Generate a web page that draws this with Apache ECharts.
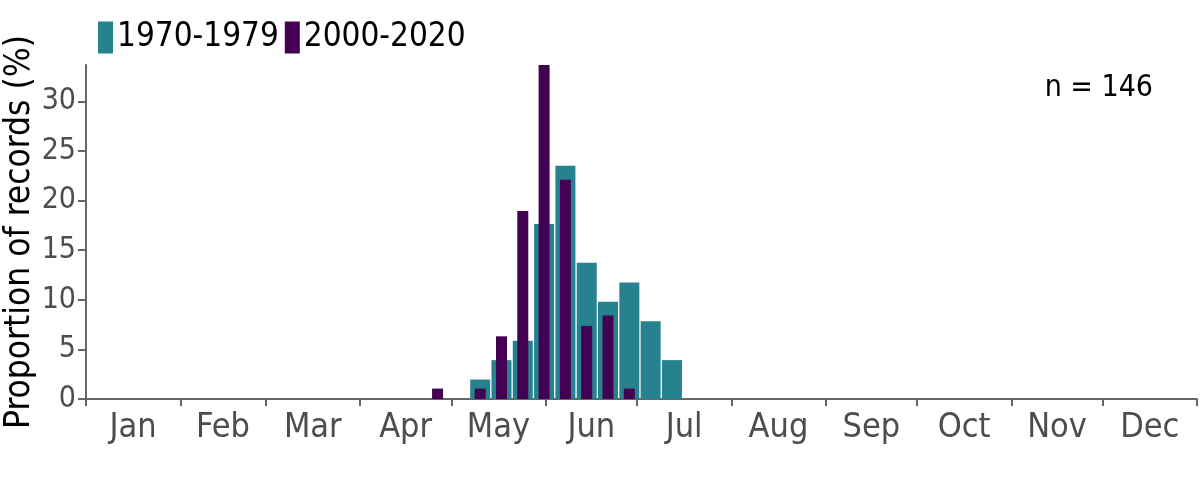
<!DOCTYPE html>
<html>
<head>
<meta charset="utf-8">
<script src="https://cdn.jsdelivr.net/npm/echarts@6/dist/echarts.min.js"></script>
<style>
html,body{margin:0;padding:0;background:#fff;}
#chart{width:1200px;height:480px;}
</style>
</head>
<body>
<div id="chart"></div>
<script>
// Month labels and boundaries (day of year)
const monthNames = ['Jan','Feb','Mar','Apr','May','Jun','Jul','Aug','Sep','Oct','Nov','Dec'];
const monthBounds = [0,31,59,90,120,151,181,212,243,273,304,334,365];
const yTicks = [0,5,10,15,20,25,30];

// Weekly bins (week index, week k covers days 7k..7k+7) and proportion of records (%)
const weeks7079 = [18,19,20,21,22,23,24,25,26,27];
const pct7079   = [1.96,3.92,5.88,17.65,23.53,13.73,9.80,11.76,7.84,3.92];
const weeks0020 = [16,18,19,20,21,22,23,24,25];
const pct0020   = [1.05,1.05,6.32,18.95,33.68,22.11,7.37,8.42,1.05];
const sampleLabel = 'n = 146';

const FONT = '"DejaVu Sans Condensed","DejaVu Sans",sans-serif';
const monthMids = monthNames.map((m,i)=> (monthBounds[i]+monthBounds[i+1])/2);
const toData = (weeks, vals) => weeks.map((w,i)=>[w*7+3.5, vals[i]]);

const chart = echarts.init(document.getElementById('chart'), null, {renderer:'canvas'});
const axisCol = '#666666';
chart.setOption({
  animation:false,
  backgroundColor:'#ffffff',
  color:['#26828e','#440154'],
  title:{
    text: sampleLabel, right: 42, top: 68,
    textStyle:{fontFamily:FONT, fontSize:30, fontWeight:'normal', color:'#000'}
  },
  legend:{
    left:93, top:16, itemWidth:15, itemHeight:32, itemGap:6, icon:'rect',
    data:['1970-1979','2000-2020'],
    textStyle:{fontFamily:FONT, fontSize:33, color:'#000', padding:[0,0,0,-1]}
  },
  grid:{left:86, right:3, top:65, bottom:81, outerBoundsMode:'none', containLabel:false},
  xAxis:[{
    type:'value', min:0, max:365,
    splitLine:{show:false},
    axisLine:{show:true, lineStyle:{color:axisCol, width:2}},
    axisTick:{show:true, length:7, customValues:monthBounds, lineStyle:{color:axisCol, width:2}},
    axisLabel:{
      customValues:monthMids, margin:12,
      fontFamily:FONT, fontSize:34, color:'#4d4d4d',
      formatter:(v)=>{const i=monthMids.indexOf(v); return i>=0?monthNames[i]:'';}
    }
  },{
    type:'value', min:0, max:365, show:false
  }],
  yAxis:{
    type:'value', min:0, max:'dataMax',
    name:'Proportion of records (%)', nameLocation:'middle', nameGap:49, nameMoveOverlap:false,
    nameTextStyle:{fontFamily:FONT, fontSize:35, color:'#000'},
    splitLine:{show:false},
    axisLine:{show:true, lineStyle:{color:axisCol, width:2}},
    axisTick:{show:true, length:8, customValues:yTicks, lineStyle:{color:axisCol, width:2}},
    axisLabel:{customValues:yTicks, margin:10, fontFamily:FONT, fontSize:30, color:'#4d4d4d'}
  },
  series:[{
    name:'1970-1979', type:'bar', xAxisIndex:0, barWidth:20,
    data: toData(weeks7079, pct7079)
  },{
    name:'2000-2020', type:'bar', xAxisIndex:1, barWidth:11,
    data: toData(weeks0020, pct0020)
  }]
});
</script>
</body>
</html>
